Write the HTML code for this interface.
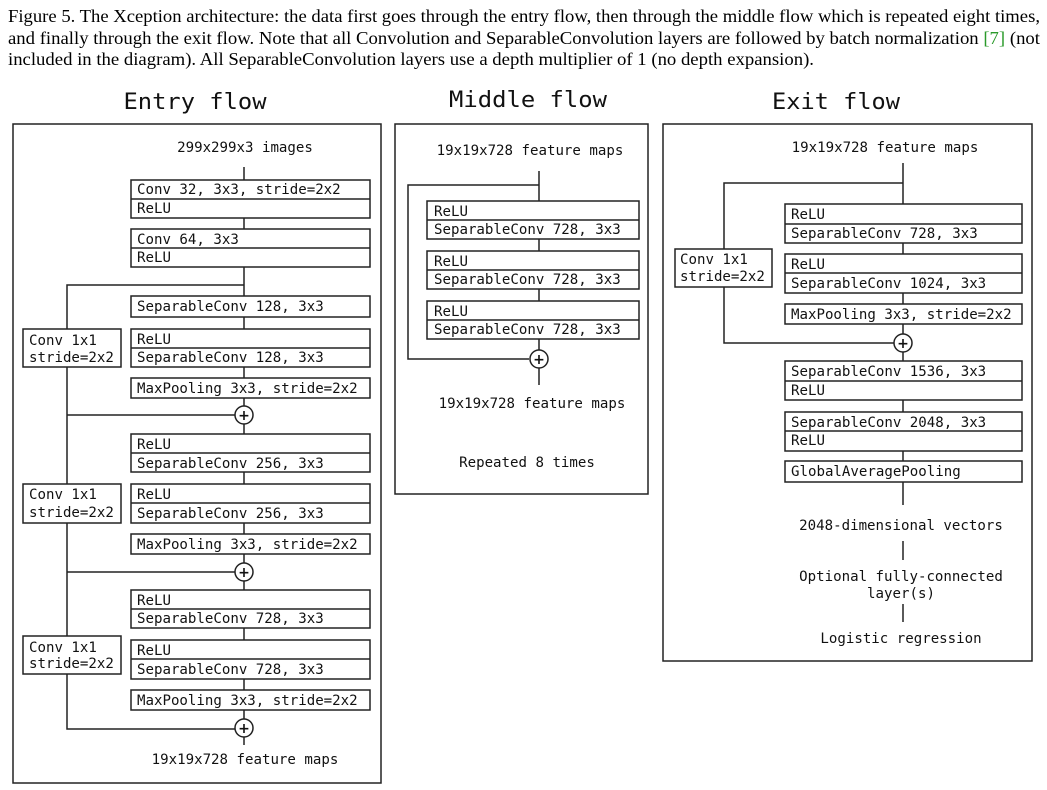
<!DOCTYPE html>
<html><head><meta charset="utf-8"><style>
html,body{margin:0;padding:0;background:#fff;}
svg{display:block;}
.m{font-family:"DejaVu Sans Mono","Liberation Mono",monospace;font-size:14.1px;fill:#111;}
.t{font-family:"DejaVu Sans Mono","Liberation Mono",monospace;font-size:22px;fill:#111;}
.c{font-family:"Liberation Serif",serif;font-size:17.5px;fill:#000;}
rect{fill:#fff;stroke:#222;stroke-width:1.5;}
line,path{stroke:#222;stroke-width:1.5;fill:none;}
circle{fill:#fff;stroke:#222;stroke-width:1.5;}
.p{font-family:"DejaVu Sans",sans-serif;font-size:14px;font-weight:bold;fill:#111;}
</style></head><body>
<svg width="1047" height="790" viewBox="0 0 1047 790" xmlns="http://www.w3.org/2000/svg">
<text class="c" x="8" y="22" textLength="1032" lengthAdjust="spacingAndGlyphs">Figure 5. The Xception architecture: the data first goes through the entry flow, then through the middle flow which is repeated eight times,</text>
<text class="c" x="8" y="44" textLength="1032" lengthAdjust="spacingAndGlyphs">and finally through the exit flow. Note that all Convolution and SeparableConvolution layers are followed by batch normalization <tspan fill="#2a9a2a">[7]</tspan> (not</text>
<text class="c" x="8" y="65" textLength="806" lengthAdjust="spacingAndGlyphs">included in the diagram). All SeparableConvolution layers use a depth multiplier of 1 (no depth expansion).</text>

<text class="t" x="195" y="109" text-anchor="middle" textLength="143" lengthAdjust="spacingAndGlyphs">Entry flow</text>
<text class="t" x="528" y="107" text-anchor="middle" textLength="158" lengthAdjust="spacingAndGlyphs">Middle flow</text>
<text class="t" x="836" y="109" text-anchor="middle" textLength="128" lengthAdjust="spacingAndGlyphs">Exit flow</text>

<rect x="13" y="124" width="368" height="659"/>
<rect x="395" y="124" width="253" height="370"/>
<rect x="663" y="124" width="369" height="537"/>

<!-- ENTRY FLOW -->
<text class="m" x="245" y="152" text-anchor="middle">299x299x3 images</text>
<line x1="244" y1="167" x2="244" y2="729"/>
<path d="M244 285 H67 V729 H235"/>
<path d="M67 415 H235"/>
<path d="M67 572 H235"/>
<rect x="131" y="180" width="239" height="38"/><line x1="131" y1="199" x2="370" y2="199"/>
<text class="m" x="137" y="194">Conv 32, 3x3, stride=2x2</text><text class="m" x="137" y="213">ReLU</text>
<rect x="131" y="229" width="239" height="38"/><line x1="131" y1="248" x2="370" y2="248"/>
<text class="m" x="137" y="244">Conv 64, 3x3</text><text class="m" x="137" y="262">ReLU</text>
<rect x="131" y="296" width="239" height="21"/>
<text class="m" x="137" y="311">SeparableConv 128, 3x3</text>
<rect x="131" y="329" width="239" height="38"/><line x1="131" y1="348" x2="370" y2="348"/>
<text class="m" x="137" y="344">ReLU</text><text class="m" x="137" y="362">SeparableConv 128, 3x3</text>
<rect x="131" y="378" width="239" height="20"/>
<text class="m" x="137" y="393">MaxPooling 3x3, stride=2x2</text>
<rect x="23" y="329" width="98" height="38"/>
<text class="m" x="29" y="345">Conv 1x1</text><text class="m" x="29" y="362">stride=2x2</text>
<circle cx="244" cy="415" r="9"/><text class="p" x="244" y="420" text-anchor="middle">+</text>

<rect x="131" y="434" width="239" height="38"/><line x1="131" y1="453" x2="370" y2="453"/>
<text class="m" x="137" y="449">ReLU</text><text class="m" x="137" y="468">SeparableConv 256, 3x3</text>
<rect x="131" y="484" width="239" height="39"/><line x1="131" y1="503" x2="370" y2="503"/>
<text class="m" x="137" y="499">ReLU</text><text class="m" x="137" y="518">SeparableConv 256, 3x3</text>
<rect x="131" y="534" width="239" height="20"/>
<text class="m" x="137" y="549">MaxPooling 3x3, stride=2x2</text>
<rect x="23" y="484" width="98" height="39"/>
<text class="m" x="29" y="499">Conv 1x1</text><text class="m" x="29" y="517">stride=2x2</text>
<circle cx="244" cy="572" r="9"/><text class="p" x="244" y="577" text-anchor="middle">+</text>

<rect x="131" y="590" width="239" height="38"/><line x1="131" y1="609" x2="370" y2="609"/>
<text class="m" x="137" y="605">ReLU</text><text class="m" x="137" y="623">SeparableConv 728, 3x3</text>
<rect x="131" y="640" width="239" height="39"/><line x1="131" y1="659" x2="370" y2="659"/>
<text class="m" x="137" y="655">ReLU</text><text class="m" x="137" y="674">SeparableConv 728, 3x3</text>
<rect x="131" y="690" width="239" height="20"/>
<text class="m" x="137" y="705">MaxPooling 3x3, stride=2x2</text>
<rect x="23" y="636" width="98" height="38"/>
<text class="m" x="29" y="652">Conv 1x1</text><text class="m" x="29" y="668">stride=2x2</text>
<line x1="244" y1="737" x2="244" y2="745"/>
<circle cx="244" cy="728" r="9"/><text class="p" x="244" y="733" text-anchor="middle">+</text>
<text class="m" x="245" y="764" text-anchor="middle">19x19x728 feature maps</text>

<!-- MIDDLE FLOW -->
<text class="m" x="530" y="155" text-anchor="middle">19x19x728 feature maps</text>
<line x1="539" y1="171" x2="539" y2="385"/>
<path d="M539 185 H408 V359 H529"/>
<rect x="427" y="201" width="212" height="38"/><line x1="427" y1="220" x2="639" y2="220"/>
<text class="m" x="434" y="216">ReLU</text><text class="m" x="434" y="234">SeparableConv 728, 3x3</text>
<rect x="427" y="251" width="212" height="38"/><line x1="427" y1="270" x2="639" y2="270"/>
<text class="m" x="434" y="266">ReLU</text><text class="m" x="434" y="284">SeparableConv 728, 3x3</text>
<rect x="427" y="301" width="212" height="38"/><line x1="427" y1="320" x2="639" y2="320"/>
<text class="m" x="434" y="316">ReLU</text><text class="m" x="434" y="334">SeparableConv 728, 3x3</text>
<circle cx="539" cy="359" r="9"/><text class="p" x="539" y="364" text-anchor="middle">+</text>
<text class="m" x="532" y="408" text-anchor="middle">19x19x728 feature maps</text>
<text class="m" x="527" y="467" text-anchor="middle">Repeated 8 times</text>

<!-- EXIT FLOW -->
<text class="m" x="885" y="152" text-anchor="middle">19x19x728 feature maps</text>
<line x1="903" y1="163" x2="903" y2="505"/>
<path d="M903 183 H724 V343 H894"/>
<rect x="785" y="204" width="237" height="39"/><line x1="785" y1="224" x2="1022" y2="224"/>
<text class="m" x="791" y="219">ReLU</text><text class="m" x="791" y="238">SeparableConv 728, 3x3</text>
<rect x="785" y="254" width="237" height="39"/><line x1="785" y1="273" x2="1022" y2="273"/>
<text class="m" x="791" y="269">ReLU</text><text class="m" x="791" y="288">SeparableConv 1024, 3x3</text>
<rect x="785" y="304" width="237" height="20"/>
<text class="m" x="791" y="319">MaxPooling 3x3, stride=2x2</text>
<rect x="675" y="249" width="97" height="38"/>
<text class="m" x="680" y="264">Conv 1x1</text><text class="m" x="680" y="281">stride=2x2</text>
<circle cx="903" cy="343" r="9"/><text class="p" x="903" y="348" text-anchor="middle">+</text>
<rect x="785" y="361" width="237" height="39"/><line x1="785" y1="381" x2="1022" y2="381"/>
<text class="m" x="791" y="376">SeparableConv 1536, 3x3</text><text class="m" x="791" y="395">ReLU</text>
<rect x="785" y="412" width="237" height="39"/><line x1="785" y1="431" x2="1022" y2="431"/>
<text class="m" x="791" y="427">SeparableConv 2048, 3x3</text><text class="m" x="791" y="445">ReLU</text>
<rect x="785" y="461" width="237" height="21"/>
<text class="m" x="791" y="476">GlobalAveragePooling</text>
<text class="m" x="901" y="530" text-anchor="middle">2048-dimensional vectors</text>
<line x1="903" y1="541" x2="903" y2="560"/>
<text class="m" x="901" y="581" text-anchor="middle">Optional fully-connected</text>
<text class="m" x="901" y="598" text-anchor="middle">layer(s)</text>
<line x1="903" y1="604" x2="903" y2="622"/>
<text class="m" x="901" y="643" text-anchor="middle">Logistic regression</text>
</svg>
</body></html>
